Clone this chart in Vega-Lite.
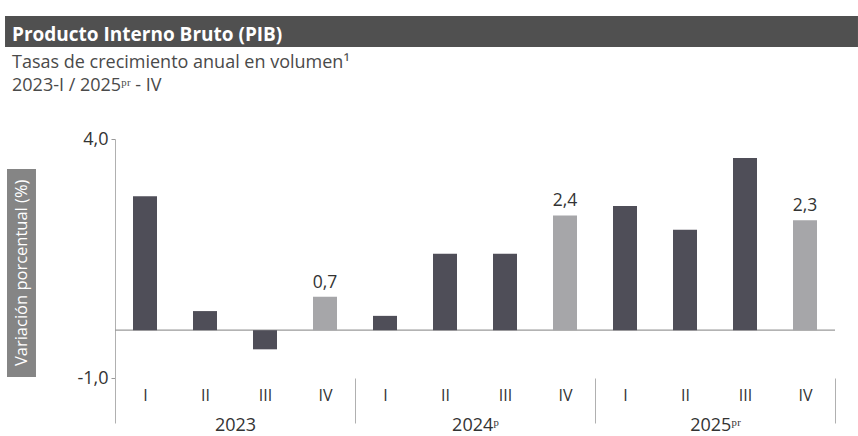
{
  "$schema": "https://vega.github.io/schema/vega-lite/v6.json",
  "width": 720,
  "height": 239,
  "autosize": {"type": "none"},
  "padding": {"left": 115, "top": 139, "right": 23, "bottom": 58},
  "background": "white",
  "config": {
    "font": "Open Sans",
    "view": {"stroke": null},
    "locale": {"number": {"decimal": ",", "thousands": ".", "grouping": [3], "currency": ["$", ""], "minus": "-"}}
  },
  "title": {
    "text": "Producto Interno Bruto (PIB)",
    "subtitle": ["Tasas de crecimiento anual en volumen¹", "2023-I / 2025ᵖʳ - IV"],
    "anchor": "start",
    "frame": "group",
    "dx": -103,
    "offset": -79,
    "color": "white",
    "fontSize": 19,
    "fontWeight": "bold",
    "font": "Open Sans",
    "subtitleFont": "Open Sans",
    "subtitleColor": "#4a4a4a",
    "subtitleFontSize": 18,
    "subtitleLineHeight": 23,
    "subtitlePadding": 9
  },
  "datasets": {
    "pib": [
      {"orden": 1, "anio": "2023", "trimestre": "I", "valor": 2.8, "tipo": "trimestral"},
      {"orden": 2, "anio": "2023", "trimestre": "II", "valor": 0.4, "tipo": "trimestral"},
      {"orden": 3, "anio": "2023", "trimestre": "III", "valor": -0.4, "tipo": "trimestral"},
      {"orden": 4, "anio": "2023", "trimestre": "IV", "valor": 0.7, "tipo": "anual"},
      {"orden": 5, "anio": "2024", "trimestre": "I", "valor": 0.3, "tipo": "trimestral"},
      {"orden": 6, "anio": "2024", "trimestre": "II", "valor": 1.6, "tipo": "trimestral"},
      {"orden": 7, "anio": "2024", "trimestre": "III", "valor": 1.6, "tipo": "trimestral"},
      {"orden": 8, "anio": "2024", "trimestre": "IV", "valor": 2.4, "tipo": "anual"},
      {"orden": 9, "anio": "2025", "trimestre": "I", "valor": 2.6, "tipo": "trimestral"},
      {"orden": 10, "anio": "2025", "trimestre": "II", "valor": 2.1, "tipo": "trimestral"},
      {"orden": 11, "anio": "2025", "trimestre": "III", "valor": 3.6, "tipo": "trimestral"},
      {"orden": 12, "anio": "2025", "trimestre": "IV", "valor": 2.3, "tipo": "anual"}
    ],
    "uno": [{}]
  },
  "resolve": {"axis": {"x": "independent", "y": "independent"}},
  "layer": [
    {
      "data": {"name": "uno"},
      "mark": {"type": "rect", "color": "#505050"},
      "encoding": {
        "x": {"datum": -1.333, "type": "quantitative", "scale": {"domain": [0.5, 12.5], "nice": false, "zero": false, "padding": 0}, "axis": null},
        "x2": {"datum": 12.883},
        "y": {"datum": 6.573, "type": "quantitative", "scale": {"domain": [-1, 4], "nice": false, "zero": false, "padding": 0}, "axis": null},
        "y2": {"datum": 5.925}
      }
    },
    {
      "data": {"name": "uno"},
      "mark": {"type": "rect", "color": "#858585"},
      "encoding": {
        "x": {"datum": -1.3, "type": "quantitative", "scale": {"domain": [0.5, 12.5], "nice": false, "zero": false, "padding": 0}, "axis": null},
        "x2": {"datum": -0.817},
        "y": {"datum": 3.372, "type": "quantitative", "scale": {"domain": [-1, 4], "nice": false, "zero": false, "padding": 0}, "axis": null},
        "y2": {"datum": -0.979}
      }
    },
    {
      "data": {"name": "uno"},
      "mark": {"type": "text", "text": "Variación porcentual (%)", "angle": 270, "color": "white", "fontSize": 16.5, "align": "center", "baseline": "middle"},
      "encoding": {
        "x": {"datum": -1.058, "type": "quantitative", "scale": {"domain": [0.5, 12.5], "nice": false, "zero": false, "padding": 0}, "axis": null},
        "y": {"datum": 1.2, "type": "quantitative", "scale": {"domain": [-1, 4], "nice": false, "zero": false, "padding": 0}, "axis": null}
      }
    },
    {
      "data": {"name": "uno"},
      "mark": {"type": "rule", "color": "#9a9a9a", "strokeWidth": 1.2},
      "encoding": {
        "x": {"datum": 0.5, "type": "quantitative", "scale": {"domain": [0.5, 12.5], "nice": false, "zero": false, "padding": 0},
          "axis": {"orient": "bottom", "values": [0.5, 4.5, 8.5, 12.5], "labels": false, "domain": false, "grid": false, "ticks": true, "tickSize": 45, "tickColor": "#b0b0b0", "tickWidth": 1, "title": null}},
        "x2": {"datum": 12.5},
        "y": {"datum": 0, "type": "quantitative", "scale": {"domain": [-1, 4], "nice": false, "zero": false, "padding": 0}, "axis": null}
      }
    },
    {
      "data": {"name": "pib"},
      "mark": {"type": "bar", "width": 24},
      "encoding": {
        "x": {"field": "orden", "type": "quantitative", "scale": {"domain": [0.5, 12.5], "nice": false, "zero": false, "padding": 0},
          "axis": {"orient": "bottom", "values": [1, 2, 3, 4, 5, 6, 7, 8, 9, 10, 11, 12], "labelExpr": "['I','II','III','IV'][(datum.value - 1) % 4]", "ticks": false, "domain": false, "grid": false, "labelPadding": 9, "labelFontSize": 16, "labelColor": "#333333", "title": null}},
        "y": {"field": "valor", "type": "quantitative", "scale": {"domain": [-1, 4], "nice": false, "zero": false, "padding": 0},
          "axis": {"orient": "left", "values": [-1, 4], "format": ".1f", "grid": false, "tickSize": 4, "tickColor": "#999999", "domainColor": "#b0b0b0", "labelFontSize": 18, "labelColor": "#333333", "labelPadding": 3, "title": null}},
        "color": {"field": "tipo", "type": "nominal", "scale": {"domain": ["trimestral", "anual"], "range": ["#4f4e58", "#a6a6a9"]}, "legend": null}
      }
    },
    {
      "data": {"name": "pib"},
      "transform": [{"filter": "datum.tipo === 'anual'"}],
      "mark": {"type": "text", "dy": -5, "baseline": "bottom", "fontSize": 17.5, "color": "#333333"},
      "encoding": {
        "x": {"field": "orden", "type": "quantitative", "scale": {"domain": [0.5, 12.5], "nice": false, "zero": false, "padding": 0},
          "axis": {"orient": "bottom", "offset": 35, "values": [2.5, 6.5, 10.5], "labelExpr": "datum.value < 4 ? '2023' : (datum.value < 8 ? '2024ᵖ' : '2025ᵖʳ')", "ticks": false, "domain": false, "grid": false, "labelPadding": 3, "labelFontSize": 18, "labelColor": "#333333", "title": null}},
        "y": {"field": "valor", "type": "quantitative", "scale": {"domain": [-1, 4], "nice": false, "zero": false, "padding": 0}, "axis": null},
        "text": {"field": "valor", "type": "quantitative", "format": ".1f"}
      }
    }
  ]
}
